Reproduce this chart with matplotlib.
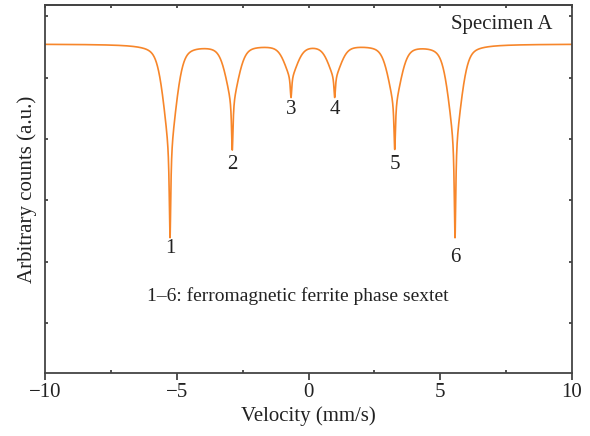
import numpy as np
import matplotlib.pyplot as plt
from matplotlib.ticker import MultipleLocator, NullFormatter

# -------------- Data --------------
peak_labels = ['1', '2', '3', '4', '5', '6']
peak_pos = [-5.256, -2.893, -0.664, 0.994, 3.272, 5.560]      # mm/s
peak_depth = [3.15, 1.71, 0.85, 0.85, 1.70, 3.15]              # a.u. below baseline
core_share = [0.48, 0.48, 0.55, 0.55, 0.50, 0.45]             # broad part of each line
label_y = [2.22, 3.58, 4.49, 4.49, 3.58, 2.06]
baseline = 5.55
core_hwhm = 0.30
spike_hwhm = 0.035

# -------------- Build spectrum (sum of line shapes) --------------
v = np.linspace(-10, 10, 8001)
counts = np.full_like(v, baseline)
for x0, d, f in zip(peak_pos, peak_depth, core_share):
    u = (v - x0) / core_hwhm
    core = 0.5 / (1 + u ** 2) + 0.5 * np.exp(-np.log(2) * u ** 2)
    spike = 1 / (1 + ((v - x0) / spike_hwhm) ** 2)
    counts -= d * (f * core + (1 - f) * spike)

# -------------- Plot --------------
plt.rcParams['font.family'] = ['Liberation Serif', 'DejaVu Serif']
plt.rcParams['font.size'] = 15

fig = plt.figure(figsize=(5.9, 4.36), dpi=100)
ax = fig.add_axes([0.0763, 0.1445, 0.8932, 0.844])
ax.plot(v, counts, color='#f7862a', lw=1.2)

for lab, x0, y in zip(peak_labels, peak_pos, label_y):
    ax.text(x0, y, lab, ha='center', va='center', color='#222222')

ax.text(0.867, 0.948, 'Specimen A', transform=ax.transAxes,
        ha='center', va='center', color='#222222')
ax.text(0.48, 0.209, '1–6: ferromagnetic ferrite phase sextet',
        transform=ax.transAxes, ha='center', va='center', color='#222222',
        fontsize=14)

ax.set_xlim(-10, 10)
ax.set_ylim(0.184, 6.187)
ax.set_xticks([-10, -5, 0, 5, 10])
ax.set_xticklabels(['−10', '−5', '0', '5', '10'])
ax.xaxis.set_minor_locator(MultipleLocator(2.5))
ax.set_yticks([1, 2, 3, 4, 5, 6])
ax.yaxis.set_major_formatter(NullFormatter())

ax.tick_params(axis='x', which='major', direction='out', length=5, width=1.2,
               color='#333333', labelcolor='#222222', pad=2)
ax.tick_params(axis='x', which='minor', direction='in', length=2, width=1.2,
               color='#333333')
ax.tick_params(axis='y', direction='in', length=2, width=1.2, color='#333333',
               left=True, right=True)

# small inward ticks along the top edge
top = ax.secondary_xaxis('top')
top.xaxis.set_major_locator(MultipleLocator(2.5))
top.tick_params(direction='in', length=2, width=1.2, color='#333333',
                labeltop=False)

for s in ax.spines.values():
    s.set_color('#444444')
    s.set_linewidth(1.3)
top.spines['top'].set_color('#444444')
top.spines['top'].set_linewidth(1.3)

ax.set_xlabel('Velocity (mm/s)', color='#222222', labelpad=3)
ax.set_ylabel('Arbitrary counts (a.u.)', color='#222222', labelpad=2)

fig.savefig('out.png', dpi=100)
